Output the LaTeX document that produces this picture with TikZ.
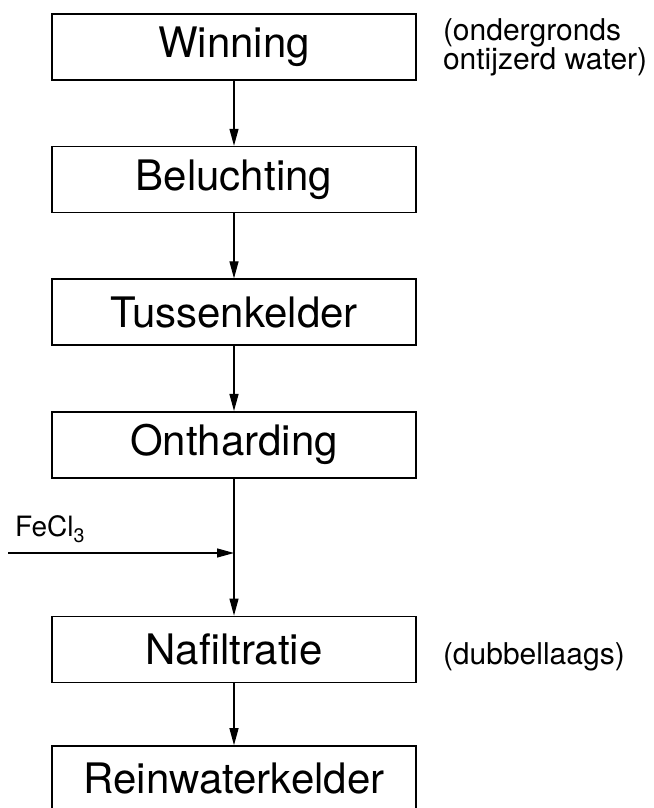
\documentclass[tikz,border=0pt]{standalone}
\usepackage{fontspec}
\setmainfont{TeX Gyre Heros}
\usetikzlibrary{positioning,arrows.meta}

\begin{document}
\begin{tikzpicture}[x=1pt, y=1pt, node distance=65pt,
	stage/.style = {draw, line width=1.6pt, minimum width=364pt, minimum height=66pt, inner sep=0pt, font=\fontsize{42}{42}\selectfont},
	note/.style = {align=left, inner sep=0pt, font=\fontsize{30}{29}\selectfont},
	flow/.style = {-{Triangle[length=17pt, width=9pt]}, line width=1.2pt}]
	\useasboundingbox (0,0) rectangle (653,808);
	\node[stage] (win) at (234,761) {Winning};
	\node[stage, below=of win] (bel) {Beluchting};
	\node[stage, below=of bel] (tus) {Tussenkelder};
	\node[stage, below=of tus] (ont) {Ontharding};
	\node[stage, below=137pt of ont] (naf) {Nafiltratie};
	\node[stage, below=62pt of naf] (rein) {Reinwaterkelder}; % onderkant valt buiten de pagina
	% opmerkingen rechts
	\node[note, anchor=west] (bron) at ([xshift=26pt]win.east) {(ondergronds\\ontijzerd water)};
	\node[note, anchor=base west] (laag) at ([xshift=26pt]naf.base east) {(dubbellaags)};
	% dosering
	\node[note, anchor=base west, font=\fontsize{28}{28}\selectfont] (fecl) at (15,271) {FeCl\textsubscript{3}};
	\coordinate (feed) at (8,255);
	\draw[flow] (win) -- (bel);
	\draw[flow] (bel) -- (tus);
	\draw[flow] (tus) -- (ont);
	\draw[flow] (ont) -- (naf);
	\draw[flow] (naf) -- (rein);
	\draw[flow] (feed) -- (feed -| ont.south);
\end{tikzpicture}
\end{document}
